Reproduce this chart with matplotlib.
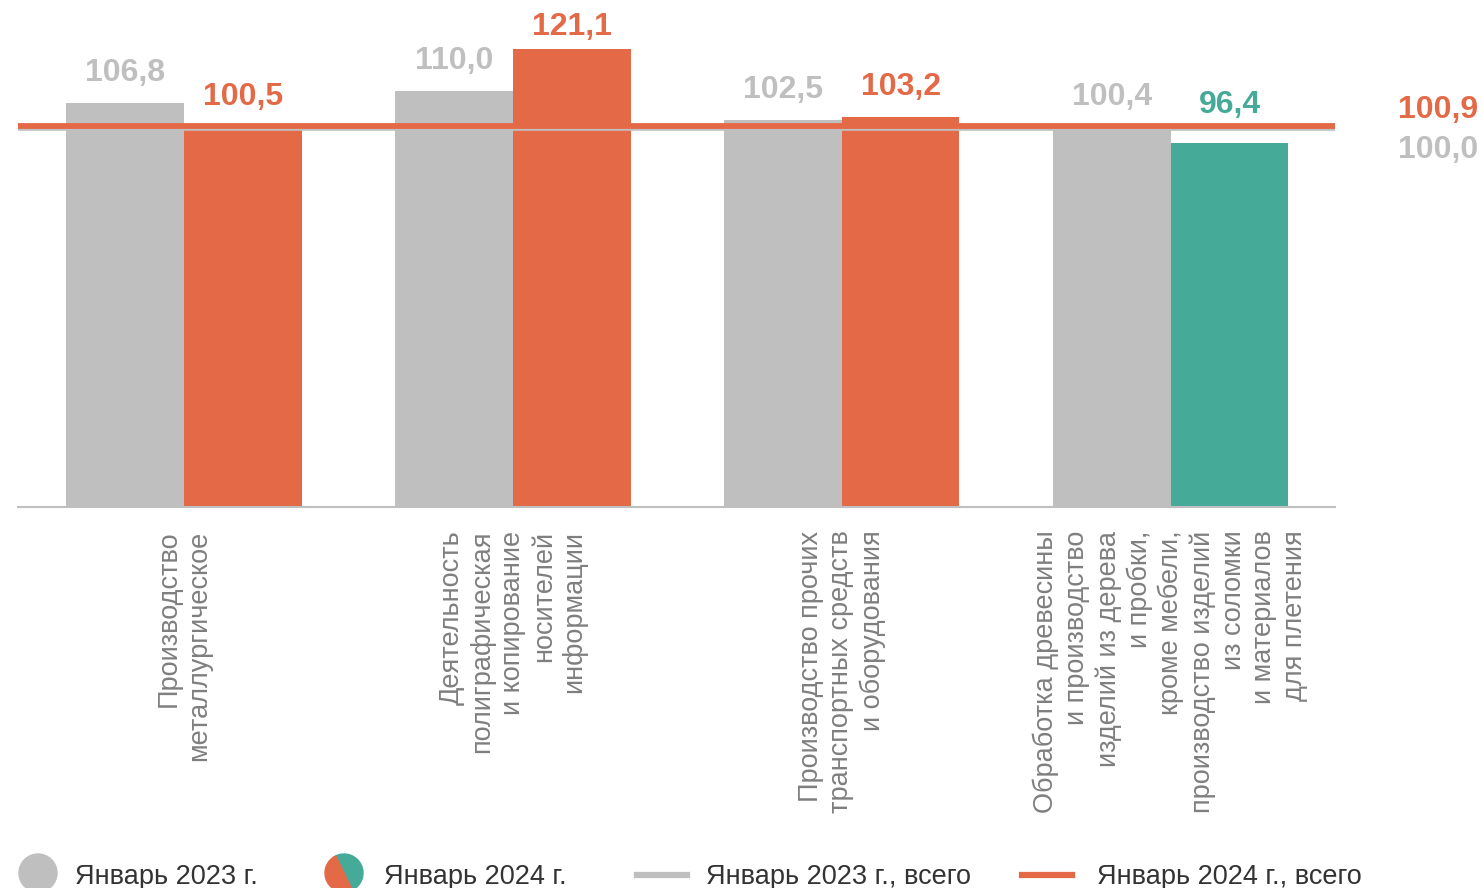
import matplotlib
matplotlib.use("Agg")
import matplotlib.pyplot as plt
from matplotlib.patches import Circle, Wedge
from matplotlib.lines import Line2D

plt.rcParams['font.family'] = ['Liberation Sans', 'DejaVu Sans']

categories = [
    "Производство\nметаллургическое",
    "Деятельность\nполиграфическая\nи копирование\nносителей\nинформации",
    "Производство прочих\nтранспортных средств\nи оборудования",
    "Обработка древесины\nи производство\nизделий из дерева\nи пробки,\nкроме мебели,\nпроизводство изделий\nиз соломки\nи материалов\nдля плетения",
]
jan2023 = [106.8, 110.0, 102.5, 100.4]
jan2024 = [100.5, 121.1, 103.2, 96.4]
total2023 = 100.0
total2024 = 100.9
legend_labels = ["Январь 2023 г.", "Январь 2024 г.", "Январь 2023 г., всего", "Январь 2024 г., всего"]

GRAY = "#bfbfbf"
ORANGE = "#e36947"
TEAL = "#45aa97"
CAT_COLOR = "#7f7f7f"
LEG_COLOR = "#333333"

def fmt(v):
    return f"{v:.1f}".replace(".", ",")

W, H = 1483, 888
fig = plt.figure(figsize=(W / 100, H / 100), dpi=100)
ax = fig.add_axes([18 / W, (H - 507) / H, (1335 - 18) / W, 507 / H])

x = list(range(len(categories)))
bw = 0.358
ax.bar([i - bw / 2 for i in x], jan2023, width=bw, color=GRAY, zorder=2)
colors24 = [ORANGE if v >= total2023 else TEAL for v in jan2024]
ax.bar([i + bw / 2 for i in x], jan2024, width=bw, color=colors24, zorder=2)

ax.axhline(total2023, color=GRAY, lw=2.6, zorder=3)
ax.axhline(total2024, color=ORANGE, lw=4.2, zorder=4)

def label_pos(v):
    if v < total2023:
        return total2024, 15
    if v < total2024 + 1:
        return total2024, 20.5
    return v, 21.5 if v < 115 else 16

for i, v in enumerate(jan2023):
    y, off = label_pos(v)
    ax.annotate(fmt(v), (i - bw / 2, y), xytext=(0, off), textcoords="offset points",
                ha="center", va="center", fontsize=23, fontweight="bold", color=GRAY)
for i, v in enumerate(jan2024):
    y, off = label_pos(v)
    ax.annotate(fmt(v), (i + bw / 2, y), xytext=(0, off), textcoords="offset points",
                ha="center", va="center", fontsize=23, fontweight="bold", color=colors24[i])

ax.set_xlim(-0.505, 3.5)
ax.set_ylim(0, 507 / 3.78)
for s in ["top", "right", "left"]:
    ax.spines[s].set_visible(False)
ax.spines["bottom"].set_color("#bfbfbf")
ax.spines["bottom"].set_linewidth(1.5)
ax.set_yticks([])
ax.set_xticks(x)
ax.set_xticklabels(categories, rotation=90, ha="center", va="top",
                   multialignment="right", fontsize=19.5, color=CAT_COLOR,
                   linespacing=1.24)
ax.tick_params(axis="x", length=0, pad=17)

# right-side totals
fig.text(1438 / W, 1 - 110 / H, fmt(total2024), ha="center", va="center",
         fontsize=23, fontweight="bold", color=ORANGE)
fig.text(1438 / W, 1 - 150 / H, fmt(total2023), ha="center", va="center",
         fontsize=23, fontweight="bold", color=GRAY)

# legend (pixel coordinates overlay)
lax = fig.add_axes([0, 0, 1, 1], facecolor="none")
lax.set_xlim(0, W)
lax.set_ylim(H, 0)
lax.axis("off")
cy = 873
lax.add_patch(Circle((38, cy), 19, color=GRAY))
lax.add_patch(Wedge((344, cy), 19, -116, 64, color=TEAL))
lax.add_patch(Wedge((344, cy), 19, 64, 244, color=ORANGE))
lax.add_line(Line2D([637, 687], [cy + 2, cy + 2], color=GRAY, lw=4.5))
lax.add_line(Line2D([1022, 1072], [cy + 2, cy + 2], color=ORANGE, lw=4.5))
for xt, lab in zip([75, 384, 706, 1097], legend_labels):
    lax.text(xt, cy + 4, lab, ha="left", va="center", fontsize=19.5, color=LEG_COLOR)

fig.savefig("out.png", dpi=100)
